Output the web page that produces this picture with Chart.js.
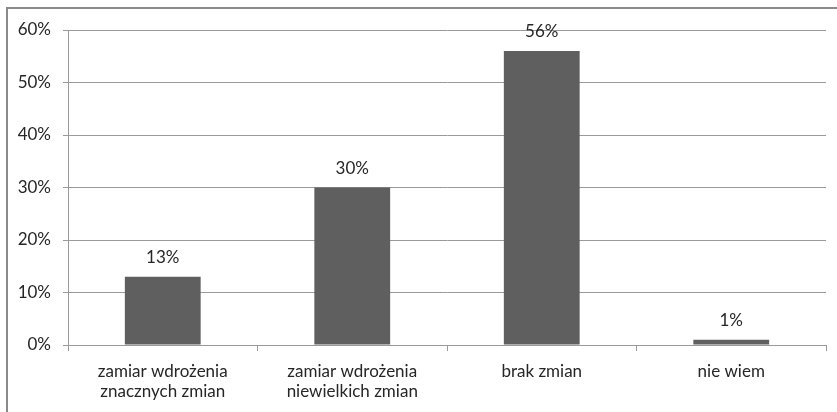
<!DOCTYPE html>
<html><head><meta charset="utf-8">
<script src="https://cdn.jsdelivr.net/npm/chart.js@4/dist/chart.umd.min.js"></script>
<style>html,body{margin:0;padding:0;background:#fff;}#wrap{width:837px;height:412px;position:relative;}</style>
</head><body><div id="wrap"><canvas id="c" width="837" height="412"></canvas></div>
<script>
const categories = [["zamiar wdrożenia","znacznych zmian"],["zamiar wdrożenia","niewielkich zmian"],["brak zmian"],["nie wiem"]];
const values = [13, 30, 56, 1];
const yTicks = [0,10,20,30,40,50,60];

const FONT = {family: "Lato", size: 17, lineHeight: 1.2};
const TEXT = "#262626";

const framePlugin = {
  id: "frame",
  afterDraw(chart) {
    const ctx = chart.ctx;
    ctx.save();
    ctx.strokeStyle = "#8a8a8a";
    ctx.lineWidth = 2;
    ctx.beginPath();
    ctx.moveTo(7, 412); ctx.lineTo(7, 8); ctx.lineTo(837, 8);
    ctx.stroke();
    ctx.restore();
  }
};
const labelPlugin = {
  id: "vlabels",
  afterDatasetsDraw(chart) {
    const ctx = chart.ctx;
    const meta = chart.getDatasetMeta(0);
    ctx.save();
    ctx.font = FONT.size + "px " + FONT.family;
    ctx.fillStyle = TEXT;
    ctx.textAlign = "center";
    ctx.textBaseline = "alphabetic";
    meta.data.forEach((bar, i) => {
      ctx.fillText(values[i] + "%", bar.x, bar.y - 14);
    });
    ctx.restore();
  }
};

new Chart(document.getElementById("c"), {
  type: "bar",
  data: {
    labels: categories,
    datasets: [{data: values, backgroundColor: "#5f5f5f", borderWidth: 0,
      barPercentage: 0.4, categoryPercentage: 1.0}]
  },
  options: {
    responsive: false, animation: false,
    layout: {padding: {top: 30, right: 11, left: 0, bottom: 0}},
    plugins: {legend: {display: false}, tooltip: {enabled: false}},
    scales: {
      x: {
        grid: {offset: true, drawOnChartArea: false, drawTicks: true, tickLength: 6, color: "#9a9a9a"},
        border: {color: "#9a9a9a"},
        ticks: {font: FONT, color: TEXT, padding: 10, maxRotation: 0},
        afterFit(s) { s.height = 67; }
      },
      y: {
        min: 0, max: 60,
        afterBuildTicks(s) { s.ticks = yTicks.map(v => ({value: v})); },
        grid: {color: "#9a9a9a", tickLength: 5, drawTicks: true},
        border: {color: "#9a9a9a"},
        ticks: {font: FONT, color: TEXT, padding: 12, callback: v => v + "%"},
        afterFit(s) { s.width = 68; }
      }
    }
  },
  plugins: [framePlugin, labelPlugin]
});
</script></body></html>
